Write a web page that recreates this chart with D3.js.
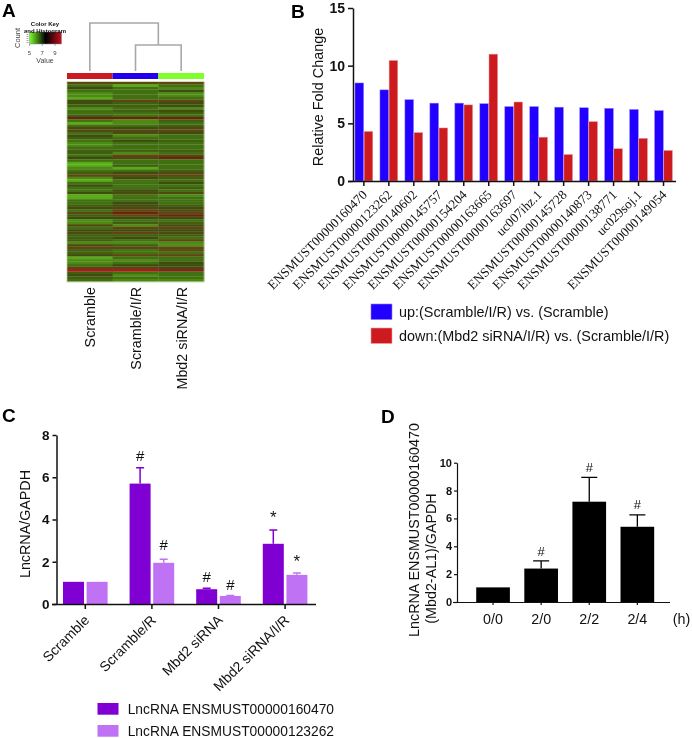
<!DOCTYPE html>
<html><head><meta charset="utf-8">
<script src="https://cdnjs.cloudflare.com/ajax/libs/d3/7.8.5/d3.min.js"></script>
<style>html,body{margin:0;padding:0;background:#fff}svg{display:block;filter:blur(.3px)}text{font-family:"Liberation Sans",Arial,sans-serif;fill:#111}</style>
</head><body><svg id="c" width="692" height="738"></svg>
<script>
// Panel A
const heatSamples=["Scramble","Scramble/I/R","Mbd2 siRNA/I/R"];
const heatScramble=[8,6,7,6,5.5,5.5,5,7,7,6.5,5.5,6,6,6.5,8.5,6,5,6,7.5,
7.5,6,7,6.5,6,5.5,5.5,6,6.5,6.5,6,7,6,5,5,5.5,6,6.5,8,5.5,
5,6,7,6,6,7,5,5,6,6,6.5,7,6,8,6.5,7,5.5,5.5,7.5,6,
7,7.5,6.5,6.5,6.5,5.5,7.5,8,6.5,6.5,7,5,5.5,5.5,6,7.5,9.5,6.5,7,6.5,6];
const heatScrambleIR=[8,5,6,6,6,6,6,8,6.5,6.5,6,6.5,6,6,8.5,5.5,5.5,6,7,
7.5,7.5,5.5,6,7,6,6,6,6.5,5.5,8,7.5,6,6,6.5,5,6,7,8,7,
6,6,6,6,7,7.5,6,6,6,7,7,7.5,8,8.5,8,7,6,6.5,5.5,8,
7,8,6.5,7,6,5.5,6.5,8,6,6,8,6,5.5,6,7,7.5,9.5,6,5.5,6,5.5];
const heatMbd2=[8,6,5.5,7,5.5,5.5,6,8,7,7,5.5,7,6.5,6,8.5,6.5,6,6.5,7.5,
8,7,6,6,6.5,6,6,6,6.5,6,7.5,8.5,6,6,6,6,6.5,7.5,8,6.5,
6,7,6,6.5,6,7.5,5.5,6,6,6,6.5,7,7.5,8,8.5,7,6,6.5,7,8,
7,7.5,6.5,6,8,5.5,5.5,8,8,6,8,6,6,7,7,7,9,6,6,6,5.5];
const heatColumns=[heatScramble,heatScrambleIR,heatMbd2];
const sampleColors=["#cc1a22","#2200ee","#80ff2a"];
const dendroHeights=[0,1,2];
const keyTicks=[5,7,9];
// Panel B
const transcripts=["ENSMUST00000160470","ENSMUST00000123262","ENSMUST00000140602","ENSMUST00000145757","ENSMUST00000154204","ENSMUST00000163665","ENSMUST00000163697","uc007ihz.1","ENSMUST00000145728","ENSMUST00000140873","ENSMUST00000138771","uc029soj.1","ENSMUST00000149054"];
const upValues=[8.5,7.9,7.05,6.75,6.75,6.7,6.45,6.45,6.4,6.35,6.3,6.2,6.1];
const downValues=[4.3,10.45,4.2,4.6,6.6,11,6.85,3.8,2.3,5.15,2.8,3.7,2.65];
const legendB=["up:(Scramble/I/R) vs. (Scramble)","down:(Mbd2 siRNA/I/R) vs. (Scramble/I/R)"];
const ticksB=[0,5,10,15];
// Panel C
const groupsC=["Scramble","Scramble/R","Mbd2 siRNA","Mbd2 siRNA/I/R"];
const lnc1=[1.05,5.7,0.7,2.85];
const lnc1Top=[1.05,6.45,0.75,3.5];
const lnc2=[1.05,1.95,0.38,1.38];
const lnc2Top=[1.05,2.12,0.4,1.47];
const lnc1Marks=[null,"#","#","*"];
const lnc1MarkAt=[0,6.75,1.05,3.83];
const lnc2Marks=[null,"#","#","*"];
const lnc2MarkAt=[0,2.55,0.68,1.75];
const legendC=["LncRNA ENSMUST00000160470","LncRNA ENSMUST00000123262"];
const ticksC=[0,2,4,6,8];
// Panel D
const groupsD=["0/0","2/0","2/2","2/4"];
const valuesD=[1.05,2.4,7.2,5.4];
const topsD=[1.05,2.95,8.95,6.25];
const marksD=[null,"#","#","#"];
const markAtD=[0,3.3,9.35,6.7];
const ticksD=[0,2,4,6,8,10];

const svg=d3.select("#c");
const txt=(x,y,s,o={})=>{
  const t=svg.append("text").attr("x",0).attr("y",0).text(s)
    .attr("transform",`translate(${x},${y})`+(o.rot?` rotate(${o.rot})`:""))
    .style("font-size",(o.size||14)+"px").attr("text-anchor",o.anchor||"start");
  if(o.bold)t.style("font-weight","bold");
  if(o.family)t.style("font-family",o.family);
  if(o.fill)t.style("fill",o.fill);
  return t;
};
function styleAxis(g,w,size,tw){
  g.selectAll("path").attr("stroke","#111").attr("stroke-width",w);
  g.selectAll("line").attr("stroke","#111").attr("stroke-width",tw||w);
  g.selectAll("text").style("font-size",size+"px").style("font-weight","bold").style("fill","#111");
}
[["A",2,17],["B",291,17.5],["C",2,422],["D",381,423]].forEach(d=>txt(d[1],d[2],d[0],{size:19,bold:true,fill:"#000"}));

// ---- A: heat map
const hx=d3.scaleBand().domain(heatSamples).range([67,204]);
const hy=d3.scaleBand().domain(d3.range(heatScramble.length)).range([82,281.5]);
const heatColor=d3.scaleLinear().domain([5,5.5,6,7,8,8.5,9.5])
  .range(["#58aa16","#4d8a14","#40700f","#3e4d0e","#5e4610","#6a2410","#b8101c"]);
heatColumns.forEach((col,i)=>{
  svg.append("g").selectAll("rect").data(col).join("rect")
    .attr("x",hx(heatSamples[i])).attr("width",hx.bandwidth()+.3)
    .attr("y",(d,j)=>hy(j)).attr("height",hy.bandwidth()+.2)
    .attr("fill",d=>heatColor(d));
});
svg.append("rect").attr("x",67).attr("y",81.5).attr("width",137).attr("height",200.5).attr("fill","none").attr("stroke","#b9cf9a").attr("stroke-width",.7);
svg.append("g").selectAll("rect").data(heatSamples).join("rect")
  .attr("x",d=>hx(d)).attr("width",hx.bandwidth()).attr("y",73).attr("height",6)
  .attr("fill",(d,i)=>sampleColors[i]);
const dy=d3.scaleLinear().domain([0,1,2]).range([71,45,23]);
const cx=heatSamples.map(s=>hx(s)+hx.bandwidth()/2);
const inner=(cx[1]+cx[2])/2;
const dendro=d3.path();
dendro.moveTo(cx[1],dy(dendroHeights[0]));dendro.lineTo(cx[1],dy(dendroHeights[1]));
dendro.lineTo(cx[2],dy(dendroHeights[1]));dendro.lineTo(cx[2],dy(dendroHeights[0]));
dendro.moveTo(cx[0],dy(dendroHeights[0]));dendro.lineTo(cx[0],dy(dendroHeights[2]));
dendro.lineTo(inner,dy(dendroHeights[2]));dendro.lineTo(inner,dy(dendroHeights[1]));
svg.append("path").attr("d",dendro.toString()).attr("fill","none").attr("stroke","#a8a8a8").attr("stroke-width",1.6);
heatSamples.forEach((s,i)=>txt(cx[i]+5.5,287,s,{rot:-90,anchor:"end",size:14.3}));
// colour key
const grad=svg.append("defs").append("linearGradient").attr("id","k");
[["0%","#7fff2a"],["50%","#000"],["100%","#c4101c"]].forEach(s=>grad.append("stop").attr("offset",s[0]).attr("stop-color",s[1]));
svg.append("rect").attr("x",29.5).attr("y",32).attr("width",32).attr("height",12).attr("fill","url(#k)").attr("stroke","#889").attr("stroke-width",.5);
const kx=d3.scaleLinear().domain([5,9]).range([29.5,55]);
keyTicks.forEach(t=>{txt(kx(t),55,t,{size:6,anchor:"middle",fill:"#444"});
  svg.append("line").attr("x1",kx(t)).attr("x2",kx(t)).attr("y1",44).attr("y2",46).attr("stroke","#777").attr("stroke-width",.6);});
txt(45,25.5,"Color Key",{size:6,bold:true,anchor:"middle"});
txt(45,32.5,"and Histogram",{size:6,bold:true,anchor:"middle"});
txt(45,63,"Value",{size:7,anchor:"middle",fill:"#444"});
txt(20,38,"Count",{size:7.5,rot:-90,anchor:"middle",fill:"#444"});
svg.append("line").attr("x1",27.5).attr("x2",27.5).attr("y1",32).attr("y2",44).attr("stroke","#aaa").attr("stroke-width",2).attr("stroke-dasharray","1 1");

// ---- B
const bx=d3.scaleBand().domain(transcripts).range([351.4,351.4+13*24.97]).paddingInner(.267).paddingOuter(.1335);
const by=d3.scaleLinear().domain([0,15]).range([181,8]);
const sub=d3.scaleBand().domain(["up","down"]).range([0,bx.bandwidth()]);
[["up",upValues,"#2200ff","#8a7cff"],["down",downValues,"#cc1a1f","#eda0a0"]].forEach(([k,vals,c,e])=>{
  svg.append("g").selectAll("rect").data(vals).join("rect")
   .attr("x",(d,i)=>bx(transcripts[i])+sub(k)+.25).attr("width",sub.bandwidth()-.5)
   .attr("y",d=>by(d)).attr("height",d=>by(0)-by(d)).attr("fill",c).attr("stroke",e).attr("stroke-width",.5);
});
const bL=svg.append("g").attr("transform","translate(353,0)").call(d3.axisLeft(by).tickValues(ticksB).tickSize(5).tickPadding(3).tickSizeOuter(0));
styleAxis(bL,1.5,14);
const bB=svg.append("g").attr("transform","translate(0,181)").call(d3.axisBottom(bx).tickSize(5).tickSizeOuter(0).tickFormat(""));
styleAxis(bB,1.5,14);
bB.select("path").attr("d","M348,0.5H676");
transcripts.forEach(t=>txt(bx(t)+bx.bandwidth()/2+4,195.5,t,{rot:-45,anchor:"end",size:13.2,family:'"Liberation Serif",serif'}));
txt(323,97,"Relative Fold Change",{rot:-90,anchor:"middle",size:14.4});
[["#2200ff","#8a7cff",304],["#cc1a1f","#eda0a0",328]].forEach((d,i)=>{
  svg.append("rect").attr("x",371).attr("y",d[2]).attr("width",21).attr("height",15.5).attr("fill",d[0]).attr("stroke",d[1]).attr("stroke-width",.6);
  txt(399,d[2]+12.6,legendB[i],{size:14.4});
});

// ---- C
const cxS=d3.scaleBand().domain(groupsC).range([52,52+4*66.6]).paddingInner(.33).paddingOuter(.165);
const cy=d3.scaleLinear().domain([0,8]).range([604,435]);
const cSub=d3.scaleBand().domain([0,1]).range([0,cxS.bandwidth()]).paddingInner(.11);
[[lnc1,lnc1Top,"#8000d4",lnc1Marks,lnc1MarkAt,0],[lnc2,lnc2Top,"#bf72f4",lnc2Marks,lnc2MarkAt,1]].forEach(([v,t,c,m,ma,k])=>{
  const x0=i=>cxS(groupsC[i])+cSub(k), w=cSub.bandwidth();
  const g=svg.append("g");
  g.selectAll("path").data(v).join("path").attr("fill","none").attr("stroke",c).attr("stroke-width",1.5)
   .attr("d",(d,i)=>{const p=d3.path();if(t[i]>d){const cc=x0(i)+w/2;p.moveTo(cc,cy(d));p.lineTo(cc,cy(t[i]));p.moveTo(cc-4,cy(t[i]));p.lineTo(cc+4,cy(t[i]));}return p.toString();});
  g.selectAll("rect").data(v).join("rect").attr("x",(d,i)=>x0(i)).attr("width",w)
   .attr("y",d=>cy(d)).attr("height",d=>cy(0)-cy(d)).attr("fill",c);
  m.forEach((s,i)=>{if(s)txt(x0(i)+w/2,cy(ma[i]),s,{size:s==="*"?17:15,anchor:"middle"});});
});
const cL=svg.append("g").attr("transform","translate(56.5,0)").call(d3.axisLeft(cy).tickValues(ticksC).tickSize(4).tickPadding(3).tickSizeOuter(0));
styleAxis(cL,1.5,13.5);
const cB=svg.append("g").attr("transform","translate(0,604)").call(d3.axisBottom(cxS).tickSize(5).tickSizeOuter(0).tickFormat(""));
styleAxis(cB,1.5,13);
cB.select("path").attr("d","M52,0.5H316");
groupsC.forEach(g=>txt(cxS(g)+cxS.bandwidth()/2+5,621,g,{rot:-45,anchor:"end",size:14}));
txt(30,524,"LncRNA/GAPDH",{rot:-90,anchor:"middle",size:14.3});
[["#8000d4",703],["#bf72f4",725]].forEach((d,i)=>{
  svg.append("rect").attr("x",97.5).attr("y",d[1]).attr("width",21).attr("height",11.7).attr("fill",d[0]);
  txt(127.7,d[1]+10.5,legendC[i],{size:13.8});
});

// ---- D
const dx=d3.scaleBand().domain(groupsD).range([469,469+4*48.1]).paddingInner(.3).paddingOuter(.15);
const dyS=d3.scaleLinear().domain([0,10]).range([602,462.7]);
const dg=svg.append("g");
dg.selectAll("path").data(valuesD).join("path").attr("fill","none").attr("stroke","#000").attr("stroke-width",1.3)
  .attr("d",(d,i)=>{const p=d3.path();if(topsD[i]>d){const cc=dx(groupsD[i])+dx.bandwidth()/2;p.moveTo(cc,dyS(d));p.lineTo(cc,dyS(topsD[i]));p.moveTo(cc-8,dyS(topsD[i]));p.lineTo(cc+8,dyS(topsD[i]));}return p.toString();});
dg.selectAll("rect").data(valuesD).join("rect").attr("x",(d,i)=>dx(groupsD[i])).attr("width",dx.bandwidth())
  .attr("y",d=>dyS(d)).attr("height",d=>dyS(0)-dyS(d)).attr("fill","#000");
marksD.forEach((s,i)=>{if(s)txt(dx(groupsD[i])+dx.bandwidth()/2,dyS(markAtD[i]),s,{size:13,anchor:"middle"});});
const dL=svg.append("g").attr("transform","translate(457,0)").call(d3.axisLeft(dyS).tickValues(ticksD).tickSize(3).tickPadding(2).tickSizeOuter(0));
styleAxis(dL,1.2,11);
const dB=svg.append("g").attr("transform","translate(0,602)").call(d3.axisBottom(dx).tickSize(3).tickSizeOuter(0).tickFormat(""));
styleAxis(dB,1.2,10);
dB.select("path").attr("d","M453,0.5H670");
groupsD.forEach(g=>txt(dx(g)+dx.bandwidth()/2,624,g,{anchor:"middle",size:14.3}));
txt(681.5,624,"(h)",{anchor:"middle",size:14.3});
txt(419,530,"LncRNA ENSMUST00000160470",{rot:-90,anchor:"middle",size:14.3});
txt(436,558.5,"(Mbd2-AL1)/GAPDH",{rot:-90,anchor:"middle",size:14.3});
</script></body></html>
